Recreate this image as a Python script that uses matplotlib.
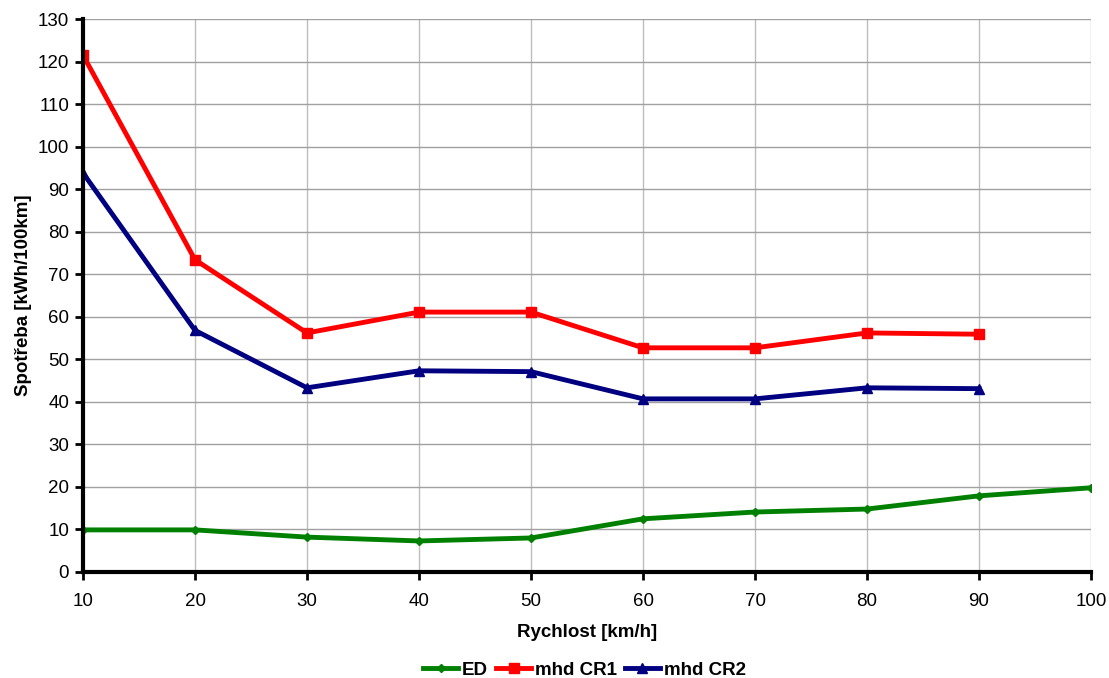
import matplotlib
matplotlib.use("Agg")
import matplotlib.pyplot as plt

plt.rcParams['font.family'] = ['Liberation Sans', 'DejaVu Sans']

speed = [10, 20, 30, 40, 50, 60, 70, 80, 90, 100]
ed = [9.9, 9.9, 8.2, 7.3, 8.0, 12.5, 14.1, 14.8, 17.9, 19.8]
speed_mhd = [10, 20, 30, 40, 50, 60, 70, 80, 90]
mhd_cr1 = [121.5, 73.4, 56.2, 61.1, 61.1, 52.7, 52.7, 56.2, 55.9]
mhd_cr2 = [93.8, 56.8, 43.3, 47.3, 47.1, 40.7, 40.7, 43.3, 43.1]

fig = plt.figure(figsize=(11.09, 6.78), dpi=100)
ax = fig.add_axes([83/1109, 1 - 572/678, (1091-83)/1109, (572-19)/678])

ax.plot(speed, ed, color='#008000', lw=3.5, marker='D', ms=4, label='ED')
ax.plot(speed_mhd, mhd_cr1, color='#ff0000', lw=3.5, marker='s', ms=6.5, label='mhd CR1')
ax.plot(speed_mhd, mhd_cr2, color='#000080', lw=3.5, marker='^', ms=6.5, label='mhd CR2')

ax.set_xlim(10, 100)
ax.set_ylim(0, 130)
ax.set_xticks(range(10, 101, 10))
ax.set_yticks(range(0, 131, 10))
ax.xaxis.grid(True, color='#bdbdbd', lw=1)
ax.yaxis.grid(True, color='#a0a0a0', lw=1)
ax.set_axisbelow(True)
for s in ['top', 'right']:
    ax.spines[s].set_visible(False)
for s in ['left', 'bottom']:
    ax.spines[s].set_linewidth(3)
    ax.spines[s].set_color('black')
ax.tick_params(axis='both', direction='out', length=6, width=2, labelsize=13.5)
ax.tick_params(axis='x', pad=9)
ax.tick_params(axis='y', pad=4)

ax.set_xlabel('Rychlost [km/h]', fontsize=13.5, fontweight='bold', labelpad=10)
ax.set_ylabel('Spotřeba [kWh/100km]', fontsize=13.5, fontweight='bold', labelpad=4)

leg = fig.legend(loc='lower center', bbox_to_anchor=(0.527, -0.018), ncol=3, frameon=False,
                 prop={'size': 13.5, 'weight': 'bold'}, handlelength=1.85, columnspacing=0.45,
                 handletextpad=0.2, borderaxespad=0.2)

fig.savefig('out.png', dpi=100)
